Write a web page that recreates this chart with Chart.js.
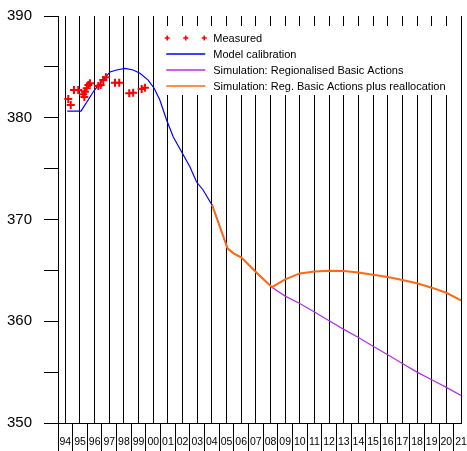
<!DOCTYPE html>
<html>
<head>
<meta charset="utf-8">
<script src="https://cdn.jsdelivr.net/npm/chart.js@4/dist/chart.umd.min.js"></script>
<style>
  html, body { margin: 0; padding: 0; background: #fff; }
  canvas { display: block; }
</style>
</head>
<body>
<canvas id="chart" width="467" height="451"></canvas>
<script>
// Axis labels: two-digit years, one column per year
const yearLabels = ['94','95','96','97','98','99','00','01','02','03','04','05','06','07',
                    '08','09','10','11','12','13','14','15','16','17','18','19','20','21'];
const firstYear = 1994;

// Measured concentrations
const measuredYears  = [1994.20, 1994.37, 1994.59, 1994.88, 1995.22, 1995.30, 1995.34, 1995.46,
                        1995.57, 1995.68, 1996.25, 1996.41, 1996.59, 1996.77, 1997.39, 1997.68,
                        1998.36, 1998.63, 1999.21, 1999.43];
const measuredValues = [381.84, 381.25, 382.73, 382.73, 382.30, 382.05, 382.56, 382.89,
                        383.22, 383.39, 383.12, 383.22, 383.71, 383.98, 383.44, 383.44,
                        382.40, 382.46, 382.83, 382.95];

// Model calibration run
const calibYears  = [1994.13, 1995.07, 1996.0, 1997.05, 1997.5, 1998.07, 1998.63, 1999.09, 1999.65,
                     2000.06, 2000.45, 2000.91, 2001.36, 2001.93, 2002.5, 2002.95, 2003.4, 2004.0];
const calibValues = [380.66, 380.66, 382.75, 384.5, 384.69, 384.85, 384.69, 384.37, 383.7,
                     382.9, 381.74, 379.78, 378.14, 376.66, 375.19, 373.71, 372.9, 371.45];

// Scenario: regionalised basic actions
const regionalYears  = [2004.0, 2005.07, 2005.45, 2006.02, 2006.93, 2008.1, 2009, 2010, 2011, 2012,
                        2013, 2014, 2015, 2016, 2017, 2018, 2019, 2020, 2021];
const regionalValues = [371.5, 367.17, 366.7, 366.25, 364.94, 363.35, 362.47, 361.75, 360.9, 360.05,
                        359.2, 358.4, 357.55, 356.7, 355.85, 355.0, 354.25, 353.5, 352.7];

// Scenario: regionalised basic actions plus reallocation
const reallocYears  = [2004.0, 2005.07, 2005.45, 2006.02, 2006.93, 2008.1, 2008.5, 2009, 2010, 2011,
                       2012, 2013, 2014, 2015, 2016, 2017, 2018, 2019, 2020, 2021];
const reallocValues = [371.5, 367.17, 366.7, 366.25, 364.94, 363.35, 363.7, 364.12, 364.7, 364.9,
                       364.97, 364.94, 364.8, 364.58, 364.35, 364.05, 363.73, 363.3, 362.8, 362.05];

const seriesNames = ['Measured', 'Model calibration',
                     'Simulation: Regionalised Basic Actions',
                     'Simulation: Reg. Basic Actions plus reallocation'];

const pairs = (xs, ys) => xs.map((x, i) => ({ x, y: ys[i] }));

// Tick list: year positions (labelled, grid line) and half-year separators (tick mark only)
const xTickValues = [];
yearLabels.forEach((_, i) => { xTickValues.push(firstYear + i - 0.5, firstYear + i); });
const isYear = v => Math.abs(v - Math.round(v)) < 1e-6;

// White inset legend drawn above the grid, below the series
const insetLegend = {
  id: 'insetLegend',
  beforeDatasetsDraw(chart) {
    const { ctx, chartArea } = chart;
    const left = chart.scales.x.getPixelForValue(2000) + 2;
    const top = chartArea.top + 10;
    ctx.save();
    ctx.fillStyle = '#fff';
    ctx.fillRect(left, top, chartArea.right - left - 1, 69);
    ctx.font = '11px "Liberation Sans", Arial, sans-serif';
    ctx.textBaseline = 'middle';
    ctx.textAlign = 'left';
    const sx0 = left + 11, sx1 = left + 50, tx = left + 58;
    chart.data.datasets.forEach((ds, i) => {
      const y = top + 12 + i * 16;
      ctx.strokeStyle = ds.borderColor;
      if (ds.showLine === false) {
        ctx.lineWidth = 1.6;
        [sx0 + 1, (sx0 + sx1) / 2, sx1 - 1].forEach(cx => {
          ctx.beginPath();
          ctx.moveTo(cx - 2.5, y); ctx.lineTo(cx + 2.5, y);
          ctx.moveTo(cx, y - 2.5); ctx.lineTo(cx, y + 2.5);
          ctx.stroke();
        });
      } else {
        ctx.lineWidth = 1.5;
        ctx.beginPath();
        ctx.moveTo(sx0, y); ctx.lineTo(sx1, y);
        ctx.stroke();
      }
      ctx.fillStyle = '#000';
      ctx.fillText(ds.label, tx, y + 0.5);
    });
    ctx.restore();
  }
};

new Chart(document.getElementById('chart'), {
  type: 'line',
  data: {
    datasets: [
      {
        label: seriesNames[0],
        data: pairs(measuredYears, measuredValues),
        showLine: false,
        pointStyle: 'cross',
        pointRadius: 4,
        pointBorderWidth: 2,
        borderColor: '#ff0000',
        backgroundColor: '#ff0000',
        order: 0
      },
      {
        label: seriesNames[1],
        data: pairs(calibYears, calibValues),
        borderColor: '#0000ff',
        borderWidth: 1.2,
        pointRadius: 0,
        tension: 0,
        order: 1
      },
      {
        label: seriesNames[2],
        data: pairs(regionalYears, regionalValues),
        borderColor: '#b030e0',
        borderWidth: 1.2,
        pointRadius: 0,
        tension: 0,
        order: 3
      },
      {
        label: seriesNames[3],
        data: pairs(reallocYears, reallocValues),
        borderColor: '#ff6a14',
        borderWidth: 2,
        pointRadius: 0,
        tension: 0,
        order: 2
      }
    ]
  },
  options: {
    responsive: false,
    devicePixelRatio: 1,
    animation: false,
    layout: { padding: { left: 7, right: 5, top: 16, bottom: 0 } },
    plugins: {
      legend: { display: false },
      tooltip: { enabled: false }
    },
    scales: {
      x: {
        type: 'linear',
        min: firstYear - 0.5,
        max: firstYear + yearLabels.length - 1,
        afterBuildTicks: scale => { scale.ticks = xTickValues.map(v => ({ value: v })); },
        afterFit: scale => {
          scale.height = 28;
          scale.paddingLeft = 0; scale.paddingRight = 0;
          scale.paddingTop = 0; scale.paddingBottom = 0;
        },
        grid: {
          drawOnChartArea: true,
          drawTicks: true,
          tickLength: 28,
          lineWidth: 1,
          color: c => (c.tick && isYear(c.tick.value)) ? '#000' : 'rgba(0,0,0,0)',
          tickColor: c => (c.tick && isYear(c.tick.value)) ? 'rgba(0,0,0,0)' : '#000',
          tickWidth: 1
        },
        border: { display: true, color: '#000', width: 1 },
        ticks: {
          autoSkip: false,
          maxRotation: 0,
          minRotation: 0,
          padding: -15,
          color: '#000',
          font: { family: '"Liberation Sans", Arial, sans-serif', size: 10.5 },
          callback: v => isYear(v) ? yearLabels[Math.round(v) - firstYear] : ''
        }
      },
      y: {
        min: 350,
        max: 390,
        afterFit: scale => {
          scale.width = 51;
          scale.paddingTop = 0; scale.paddingBottom = 0;
        },
        grid: {
          drawOnChartArea: false,
          drawTicks: true,
          tickLength: 14,
          tickColor: '#000',
          tickWidth: 1
        },
        border: { display: true, color: '#000', width: 1 },
        ticks: {
          stepSize: 5,
          padding: 12,
          color: '#000',
          font: { family: '"Liberation Sans", Arial, sans-serif', size: 15 },
          callback: v => (v % 10 === 0) ? String(v) : ''
        }
      }
    }
  },
  plugins: [insetLegend]
});
</script>
</body>
</html>
